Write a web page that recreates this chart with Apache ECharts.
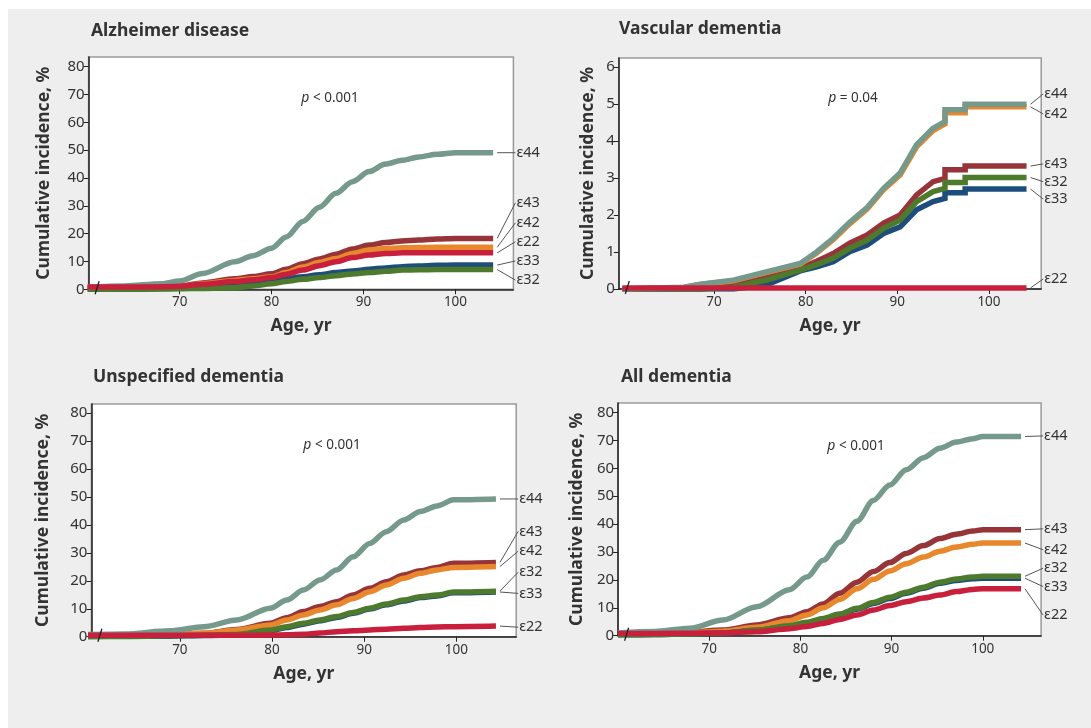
<!DOCTYPE html>
<html>
<head>
<meta charset="utf-8">
<script src="https://cdn.jsdelivr.net/npm/echarts@6/dist/echarts.min.js"></script>
<style>
html, body { margin: 0; background: #fff; }
#c { width: 1091px; height: 728px; }
</style>
</head>
<body>
<div id="c"></div>
<script>
// genotype order used by every value / label array below
const genotypes = ['ε44', 'ε43', 'ε42', 'ε22', 'ε33', 'ε32'];

// Alzheimer disease
const ageAD = [60, 64, 68, 70, 72.5, 76, 78, 80, 81.6, 83.4, 85.2, 87, 88.8, 90.6, 92.4, 94.2, 96, 98, 100, 104.1];
const adE44 = [0.8, 1.2, 2.0, 3.0, 5.7, 9.9, 12.1, 14.8, 18.8, 24.4, 29.5, 34.5, 38.7, 42.3, 45.0, 46.4, 47.6, 48.5, 49.1, 49.1];
const adE43 = [0.5, 0.6, 0.8, 1.2, 2.3, 3.8, 4.6, 5.6, 7.2, 9.2, 10.9, 12.6, 14.5, 15.9, 16.8, 17.4, 17.7, 18.1, 18.3, 18.3];
const adE42 = [0.4, 0.5, 0.7, 1.0, 2.0, 3.2, 3.8, 4.5, 6.0, 8.0, 9.7, 11.1, 12.9, 14.1, 14.7, 14.9, 15.0, 15.1, 15.1, 15.1];
const adE22 = [0.8, 0.8, 0.9, 1.1, 1.8, 2.8, 3.4, 4.2, 5.4, 6.9, 8.5, 9.9, 11.4, 12.3, 12.9, 13.1, 13.1, 13.1, 13.1, 13.1];
const adE33 = [0, 0.1, 0.3, 0.5, 0.9, 1.6, 2.3, 3.0, 3.8, 4.5, 5.2, 6.0, 6.6, 7.2, 7.7, 8.1, 8.4, 8.6, 8.7, 8.7];
const adE32 = [0, 0, 0.1, 0.2, 0.3, 0.6, 1.2, 2.0, 2.8, 3.6, 4.2, 4.9, 5.5, 6.0, 6.5, 6.9, 7.0, 7.1, 7.1, 7.1];
const adLabelY = [49.1, 31.1, 23.9, 17.1, 10.2, 3.3];

// Vascular dementia
const ageVD = [60, 66.7, 68.5, 72.1, 75.8, 79.4, 81.2, 83.0, 84.8, 86.7, 88.5, 90.3, 92.1, 93.9, 95.2, 95.2, 97.4, 97.4, 104.1];
const vdE44 = [0, 0.05, 0.13, 0.24, 0.47, 0.69, 1.0, 1.37, 1.8, 2.2, 2.72, 3.13, 3.9, 4.34, 4.52, 4.84, 4.84, 4.99, 4.99];
const vdE43 = [0, 0, 0, 0.1, 0.33, 0.56, 0.75, 0.96, 1.24, 1.46, 1.78, 2.0, 2.54, 2.9, 2.99, 3.22, 3.22, 3.32, 3.32];
const vdE42 = [0, 0.04, 0.12, 0.22, 0.45, 0.67, 0.97, 1.33, 1.76, 2.16, 2.68, 3.08, 3.84, 4.28, 4.46, 4.76, 4.76, 4.92, 4.92];
const vdE22 = [0.03, 0.03, 0.03, 0.03, 0.03, 0.03, 0.03, 0.03, 0.03, 0.03, 0.03, 0.03, 0.03, 0.03, 0.03, 0.03, 0.03, 0.03, 0.03];
const vdE33 = [0, 0, 0, 0, 0.12, 0.49, 0.6, 0.74, 1.01, 1.19, 1.5, 1.68, 2.14, 2.36, 2.45, 2.6, 2.6, 2.7, 2.7];
const vdE32 = [0, 0, 0, 0.05, 0.25, 0.51, 0.66, 0.83, 1.1, 1.32, 1.64, 1.86, 2.36, 2.63, 2.72, 2.88, 2.88, 3.01, 3.01];
const vdLabelY = [5.27, 3.38, 4.73, 0.27, 2.43, 2.9];

// Unspecified dementia
const ageUD = [60, 64, 68.9, 72.6, 76.2, 79.8, 81.6, 83.4, 85.2, 87.0, 88.8, 90.6, 92.4, 94.3, 96.1, 97.9, 99.7, 104.3];
const udE44 = [0.8, 1.0, 2.1, 3.6, 6.0, 10.2, 13.1, 16.7, 20.3, 23.9, 28.6, 33.4, 37.6, 41.8, 44.8, 46.8, 49.0, 49.3];
const udE43 = [0.3, 0.4, 0.6, 1.2, 2.6, 4.8, 6.8, 9.0, 10.8, 12.5, 14.9, 17.3, 19.7, 22.1, 23.6, 24.8, 26.3, 26.6];
const udE42 = [0.3, 0.4, 0.6, 1.2, 2.4, 4.2, 6.0, 7.8, 9.6, 11.4, 13.7, 16.1, 18.5, 20.9, 22.7, 23.9, 24.8, 25.1];
const udE22 = [0.5, 0.5, 0.5, 0.5, 0.5, 0.6, 0.7, 0.9, 1.3, 1.8, 2.1, 2.4, 2.7, 3.0, 3.3, 3.5, 3.6, 3.8];
const udE33 = [0, 0.1, 0.2, 0.4, 0.6, 2.1, 3.3, 4.5, 5.7, 6.9, 8.4, 9.9, 11.4, 12.8, 14.0, 14.6, 15.7, 16.0];
const udE32 = [0, 0.1, 0.3, 0.5, 0.8, 2.4, 3.6, 4.8, 6.0, 7.2, 8.7, 10.2, 11.7, 13.1, 14.3, 14.9, 16.0, 16.3];
const udLabelY = [49.3, 37.7, 30.6, 3.4, 15.5, 23.1];

// All dementia
const ageAll = [60, 64, 67.9, 71.5, 75.2, 78.8, 80.7, 82.5, 84.3, 86.2, 88.0, 89.8, 91.6, 93.5, 95.3, 97.1, 98.9, 100, 104.2];
const allE44 = [1.0, 1.5, 2.7, 5.6, 10.4, 16.5, 21.0, 27.0, 33.5, 41.0, 48.5, 54.0, 59.5, 63.8, 67.2, 69.4, 70.6, 71.4, 71.4];
const allE43 = [0.8, 1.0, 1.3, 2.0, 3.8, 6.4, 8.6, 11.4, 15.2, 19.2, 23.0, 26.2, 29.5, 32.3, 34.8, 36.4, 37.5, 38.0, 38.0];
const allE42 = [0.5, 0.7, 1.0, 1.6, 3.0, 5.4, 7.4, 10.0, 13.0, 16.8, 20.2, 23.2, 25.8, 28.2, 30.3, 31.8, 32.8, 33.2, 33.2];
const allE22 = [0.8, 0.8, 0.9, 1.0, 1.4, 2.5, 3.3, 4.4, 5.8, 7.4, 9.2, 10.8, 12.2, 13.5, 14.6, 15.8, 16.6, 16.8, 16.8];
const allE33 = [0.3, 0.4, 0.6, 1.0, 1.9, 3.4, 4.6, 6.0, 7.6, 9.5, 11.5, 13.3, 15.2, 17.0, 18.8, 19.8, 20.4, 20.6, 20.6];
const allE32 = [0.3, 0.4, 0.6, 1.0, 2.0, 3.6, 4.8, 6.2, 7.8, 9.8, 11.9, 13.8, 15.6, 17.4, 19.2, 20.3, 21.0, 21.3, 21.3];
const allLabelY = [71.6, 38.3, 30.8, 7.4, 17.6, 24.2];

const xTicks = [70, 80, 90, 100];
const yTicks80 = [0, 10, 20, 30, 40, 50, 60, 70, 80];
const yTicks6 = [0, 1, 2, 3, 4, 5, 6];

const colors = { 'ε44': '#75998b', 'ε43': '#963439', 'ε42': '#e8872b', 'ε22': '#c8203c', 'ε33': '#1d4d7a', 'ε32': '#4e7a2e' };
const drawOrder = ['ε43', 'ε42', 'ε33', 'ε32', 'ε44', 'ε22'];
const FONT = 'Noto Sans';
const TXT = '#333';

const panels = [
  { title: 'Alzheimer disease', p: '<', pv: '0.001', ages: ageAD, vals: [adE44, adE43, adE42, adE22, adE33, adE32], labelY: adLabelY, smooth: 0.3,
    grid: { left: 88.6, top: 57, width: 424.8, height: 232.3 }, xr: [60.1, 106.3], ymax: 83.5, yTicks: yTicks80, yGap: 36, pPos: [330, 98], tPos: [91, 22] },
  { title: 'Vascular dementia', p: '=', pv: '0.04', ages: ageVD, vals: [vdE44, vdE43, vdE42, vdE22, vdE33, vdE32], labelY: vdLabelY, smooth: false,
    grid: { left: 618.8, top: 58, width: 422.4, height: 231 }, xr: [59.6, 105.7], ymax: 6.24, yTicks: yTicks6, yGap: 22, pPos: [853, 98], tPos: [619, 20] },
  { title: 'Unspecified dementia', p: '<', pv: '0.001', ages: ageUD, vals: [udE44, udE43, udE42, udE22, udE33, udE32], labelY: udLabelY, smooth: 0.3,
    grid: { left: 91.4, top: 404, width: 424.8, height: 232.7 }, xr: [60.4, 106.5], ymax: 83.3, yTicks: yTicks80, yGap: 39, pPos: [332, 445], tPos: [93, 368] },
  { title: 'All dementia', p: '<', pv: '0.001', ages: ageAll, vals: [allE44, allE43, allE42, allE22, allE33, allE32], labelY: allLabelY, smooth: 0.3,
    grid: { left: 618.1, top: 403, width: 423, height: 232.7 }, xr: [60, 106.4], ymax: 83.4, yTicks: yTicks80, yGap: 32, pPos: [856, 446], tPos: [621, 368] }
];

const chart = echarts.init(document.getElementById('c'));

const series = [];
panels.forEach((p, i) => {
  drawOrder.forEach(g => {
    const v = p.vals[genotypes.indexOf(g)];
    series.push({
      type: 'line', name: g, xAxisIndex: i, yAxisIndex: i,
      data: p.ages.map((a, k) => [a, v[k]]),
      showSymbol: false, silent: true,
      smooth: p.smooth, smoothMonotone: 'x',
      lineStyle: { color: colors[g], width: 5.5, cap: 'butt', join: 'miter' }
    });
  });
});

chart.setOption({
  backgroundColor: '#fff',
  animation: false,
  title: panels.map(p => ({
    text: p.title, left: p.tPos[0], top: p.tPos[1], padding: 0,
    textStyle: { fontFamily: FONT, fontSize: 17.5, fontWeight: 'bold', color: TXT }
  })),
  grid: panels.map(p => Object.assign({ show: true, backgroundColor: '#fff', borderColor: '#9a9a9a', borderWidth: 1.5 }, p.grid)),
  xAxis: panels.map((p, i) => ({
    type: 'value', gridIndex: i, min: p.xr[0], max: p.xr[1],
    name: 'Age, yr', nameLocation: 'middle', nameGap: 28,
    nameTextStyle: { fontFamily: FONT, fontSize: 17.5, fontWeight: 'bold', color: TXT },
    axisLine: { onZero: false, lineStyle: { color: '#222', width: 1.5 } },
    axisTick: { customValues: xTicks, length: 5, lineStyle: { color: '#222' } },
    axisLabel: { customValues: xTicks, fontFamily: FONT, fontSize: 13.5, color: TXT, margin: 6 },
    splitLine: { show: false }
  })),
  yAxis: panels.map((p, i) => ({
    type: 'value', gridIndex: i, min: 0, max: p.ymax,
    name: 'Cumulative incidence, %', nameLocation: 'middle', nameGap: p.yGap,
    nameTextStyle: { fontFamily: FONT, fontSize: 17.5, fontWeight: 'bold', color: TXT },
    axisLine: { show: true, lineStyle: { color: '#222', width: 1.5 } },
    axisTick: { show: true, customValues: p.yTicks, length: 5, lineStyle: { color: '#222' } },
    axisLabel: { customValues: p.yTicks, fontFamily: FONT, fontSize: 15, color: TXT, margin: 4 },
    splitLine: { show: false }
  })),
  series: series
});

// grey panel, p-values, axis breaks, end labels with leader lines
const elements = [{ type: 'rect', z: -10, shape: { x: 8, y: 9, width: 1083, height: 719 }, style: { fill: '#eeeeee' } }];
panels.forEach((p, i) => {
  const g = p.grid;
  const right = g.left + g.width;
  const bottom = g.top + g.height;
  elements.push({
    type: 'text', x: p.pPos[0], y: p.pPos[1], z: 10,
    style: { text: '{i|p} ' + p.p + ' ' + p.pv, fontFamily: FONT, fontSize: 13.5, fill: TXT, align: 'center', verticalAlign: 'middle',
      rich: { i: { fontStyle: 'italic', fontFamily: FONT, fontSize: 14 } } }
  });
  elements.push({
    type: 'line', z: 10, shape: { x1: g.left + 6.5, y1: bottom + 5, x2: g.left + 10.5, y2: bottom - 8 },
    style: { stroke: '#222', lineWidth: 1.3 }
  });
  const endAge = p.ages[p.ages.length - 1];
  genotypes.forEach((name, j) => {
    const v = p.vals[j];
    const a = chart.convertToPixel({ gridIndex: i }, [endAge, v[v.length - 1]]);
    const b = chart.convertToPixel({ gridIndex: i }, [endAge, p.labelY[j]]);
    elements.push({
      type: 'line', z: 10, shape: { x1: a[0] + 4, y1: a[1], x2: right + 2, y2: b[1] },
      style: { stroke: '#555', lineWidth: 1 }
    });
    elements.push({
      type: 'text', z: 10, x: right + 3, y: b[1],
      style: { text: name, fontFamily: FONT, fontSize: 14.5, fill: TXT, align: 'left', verticalAlign: 'middle' }
    });
  });
});
chart.setOption({ graphic: { elements: elements } });
</script>
</body>
</html>
